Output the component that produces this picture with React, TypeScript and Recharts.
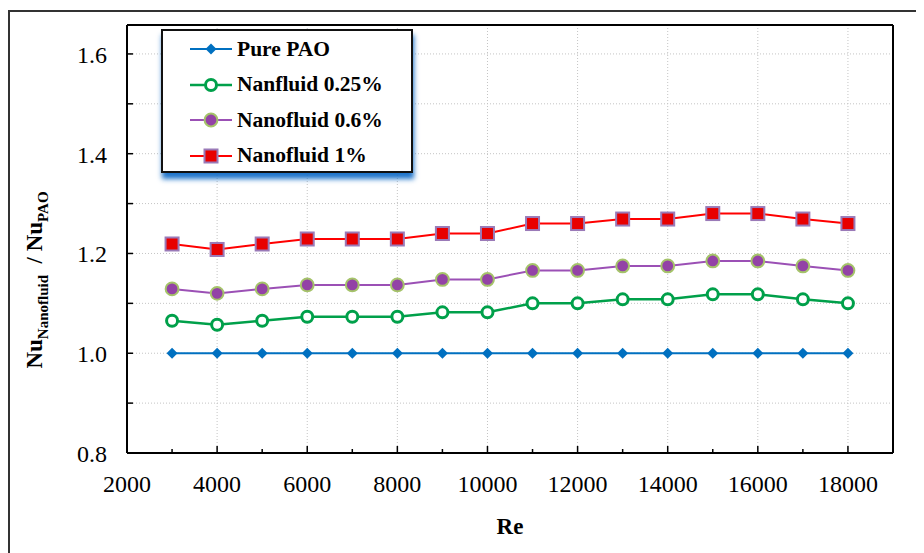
import React from 'react';
import { LineChart, Line, XAxis, YAxis, CartesianGrid, Label } from 'recharts';

// Reynolds numbers (x)
const reynolds = [3000, 4000, 5000, 6000, 7000, 8000, 9000, 10000, 11000, 12000, 13000, 14000, 15000, 16000, 17000, 18000];

// Nu ratio per series
const purePao = [1, 1, 1, 1, 1, 1, 1, 1, 1, 1, 1, 1, 1, 1, 1, 1];
const nano025 = [1.065, 1.057, 1.065, 1.073, 1.073, 1.073, 1.082, 1.082, 1.1, 1.1, 1.108, 1.108, 1.118, 1.118, 1.108, 1.1];
const nano06 = [1.129, 1.12, 1.129, 1.137, 1.137, 1.137, 1.148, 1.148, 1.166, 1.166, 1.175, 1.175, 1.185, 1.185, 1.175, 1.166];
const nano1 = [1.219, 1.208, 1.219, 1.229, 1.229, 1.229, 1.24, 1.24, 1.26, 1.26, 1.269, 1.269, 1.28, 1.28, 1.269, 1.26];

const xTicks = [2000, 3000, 4000, 5000, 6000, 7000, 8000, 9000, 10000, 11000, 12000, 13000, 14000, 15000, 16000, 17000, 18000];
const xMajorTicks = [2000, 4000, 6000, 8000, 10000, 12000, 14000, 16000, 18000];
const yTicks = [0.8, 0.9, 1.0, 1.1, 1.2, 1.3, 1.4, 1.5, 1.6];
const yMajorTicks = [0.8, 1.0, 1.2, 1.4, 1.6];

const X_DOMAIN = [2000, 19000];
const Y_DOMAIN = [0.8, 1.658];

const FONT = "'Liberation Serif', 'Times New Roman', serif";

const chartData = reynolds.map((re, i) => ({
  re,
  pure: purePao[i],
  n025: nano025[i],
  n06: nano06[i],
  n1: nano1[i],
}));

// markers
function Diamond({ cx, cy }: any) {
  if (cx == null || cy == null) return null;
  const s = 5.5;
  return <path d={`M${cx},${cy - s}L${cx + s},${cy}L${cx},${cy + s}L${cx - s},${cy}Z`} fill="#0070C0" />;
}

function OpenCircle({ cx, cy }: any) {
  if (cx == null || cy == null) return null;
  return <circle cx={cx} cy={cy} r={5.5} fill="#fff" stroke="#00A04A" strokeWidth={3} />;
}

function PurpleCircle({ cx, cy }: any) {
  if (cx == null || cy == null) return null;
  return <circle cx={cx} cy={cy} r={6.4} fill="#9342A6" stroke="#A5C36A" strokeWidth={2} />;
}

function RedSquare({ cx, cy }: any) {
  if (cx == null || cy == null) return null;
  const h = 6.5;
  return <rect x={cx - h} y={cy - h} width={2 * h} height={2 * h} fill="#E80000" stroke="#9A7AB8" strokeWidth={2} />;
}

const series = [
  { key: 'pure', name: 'Pure PAO', color: '#0070C0', width: 2, Marker: Diamond },
  { key: 'n025', name: 'Nanfluid 0.25%', color: '#00A04A', width: 2.5, Marker: OpenCircle },
  { key: 'n06', name: 'Nanofluid 0.6%', color: '#9B50B5', width: 2, Marker: PurpleCircle },
  { key: 'n1', name: 'Nanofluid 1%', color: '#FF0000', width: 2, Marker: RedSquare },
];

function XTick({ x, y, payload }: any) {
  const major = xMajorTicks.includes(payload.value);
  return (
    <g>
      <line x1={x} x2={x} y1={y} y2={y - (major ? 7 : 4)} stroke="#000" strokeWidth={1.5} />
      {major && (
        <text x={x} y={y + 31} textAnchor="middle" dominantBaseline="central" fontFamily={FONT} fontSize={24} fill="#000">
          {payload.value}
        </text>
      )}
    </g>
  );
}

function YTick({ x, y, payload }: any) {
  const major = yMajorTicks.some((v) => Math.abs(v - payload.value) < 1e-6);
  return (
    <g>
      <line x1={x} x2={x + 6} y1={y} y2={y} stroke="#000" strokeWidth={1.5} />
      {major && (
        <text x={x - 20} y={y + 1} textAnchor="end" dominantBaseline="central" fontFamily={FONT} fontSize={24} fill="#000">
          {Number(payload.value).toFixed(1)}
        </text>
      )}
    </g>
  );
}

function YTitle({ viewBox }: any) {
  const cx = 34;
  const cy = viewBox.y + viewBox.height / 2 + 41;
  return (
    <text
      x={cx}
      y={cy}
      transform={`rotate(-90, ${cx}, ${cy})`}
      textAnchor="middle"
      fontFamily={FONT}
      fontWeight="bold"
      fontSize={23}
      fill="#000"
    >
      <tspan>Nu</tspan>
      <tspan dy={6} fontSize={15}>Nanofluid</tspan>
      <tspan dy={-6}>{'\u00a0 / Nu'}</tspan>
      <tspan dy={6} fontSize={15}>PAO</tspan>
    </text>
  );
}

function XTitle({ viewBox }: any) {
  return (
    <text
      x={viewBox.x + viewBox.width / 2}
      y={viewBox.y + 73}
      textAnchor="middle"
      dominantBaseline="central"
      fontFamily={FONT}
      fontWeight="bold"
      fontSize={23}
      fill="#000"
    >
      Re
    </text>
  );
}

function LegendBox() {
  return (
    <div
      style={{
        position: 'absolute',
        left: 153,
        top: 21,
        width: 248,
        height: 140,
        border: '2px solid #111',
        background: '#fff',
        boxShadow: '1px 6px 5px rgba(20, 110, 200, 0.95)',
        fontFamily: FONT,
        fontWeight: 'bold',
        fontSize: 21.5,
        color: '#000',
      }}
    >
      {series.map((s, i) => (
        <div
          key={s.key}
          style={{ position: 'absolute', left: 0, top: 18 + i * 35.6 - 13, height: 26, display: 'flex', alignItems: 'center' }}
        >
          <svg width={74} height={26} style={{ marginLeft: 0 }}>
            <line x1={27} x2={69} y1={13} y2={13} stroke={s.color} strokeWidth={s.width} />
            <s.Marker cx={48} cy={13} />
          </svg>
          <span style={{ whiteSpace: 'nowrap' }}>{s.name}</span>
        </div>
      ))}
    </div>
  );
}

export default function App() {
  return (
    <div style={{ position: 'relative', width: 916, height: 545 }}>
      <div
        style={{
          position: 'absolute',
          left: 0,
          top: 2,
          width: 914,
          height: 543,
          borderTop: '2px solid #333',
          borderLeft: '2px solid #333',
        }}
      />
      <LineChart
        width={916}
        height={545}
        data={chartData}
        margin={{ top: 16, right: 30, bottom: 20, left: 19 }}
        style={{ position: 'absolute', left: 0, top: 0, fontFamily: FONT }}
      >
        <CartesianGrid
          stroke="#c4c4c4"
          strokeDasharray="1 2"
          verticalValues={xMajorTicks}
          horizontalValues={yTicks}
        />
        <XAxis
          dataKey="re"
          type="number"
          domain={X_DOMAIN}
          ticks={xTicks}
          interval={0}
          height={80}
          tickSize={0}
          tickMargin={0}
          tickLine={false}
          tick={<XTick />}
          axisLine={{ stroke: '#000', strokeWidth: 2 }}
        >
          <Label content={<XTitle />} />
        </XAxis>
        <XAxis
          xAxisId="top"
          orientation="top"
          dataKey="re"
          type="number"
          domain={X_DOMAIN}
          height={1}
          tick={false}
          tickLine={false}
          axisLine={{ stroke: '#000', strokeWidth: 2 }}
        />
        <YAxis
          type="number"
          domain={Y_DOMAIN}
          ticks={yTicks}
          interval={0}
          width={100}
          tickSize={0}
          tickMargin={0}
          tickLine={false}
          tick={<YTick />}
          axisLine={{ stroke: '#000', strokeWidth: 2 }}
        >
          <Label content={<YTitle />} />
        </YAxis>
        <YAxis
          yAxisId="right"
          orientation="right"
          type="number"
          domain={Y_DOMAIN}
          width={1}
          tick={false}
          tickLine={false}
          axisLine={{ stroke: '#000', strokeWidth: 2 }}
        />
        {series.map((s) => (
          <Line
            key={s.key}
            dataKey={s.key}
            name={s.name}
            type="linear"
            stroke={s.color}
            strokeWidth={s.width}
            dot={<s.Marker />}
            activeDot={false}
            isAnimationActive={false}
          />
        ))}
      </LineChart>
      <LegendBox />
    </div>
  );
}
